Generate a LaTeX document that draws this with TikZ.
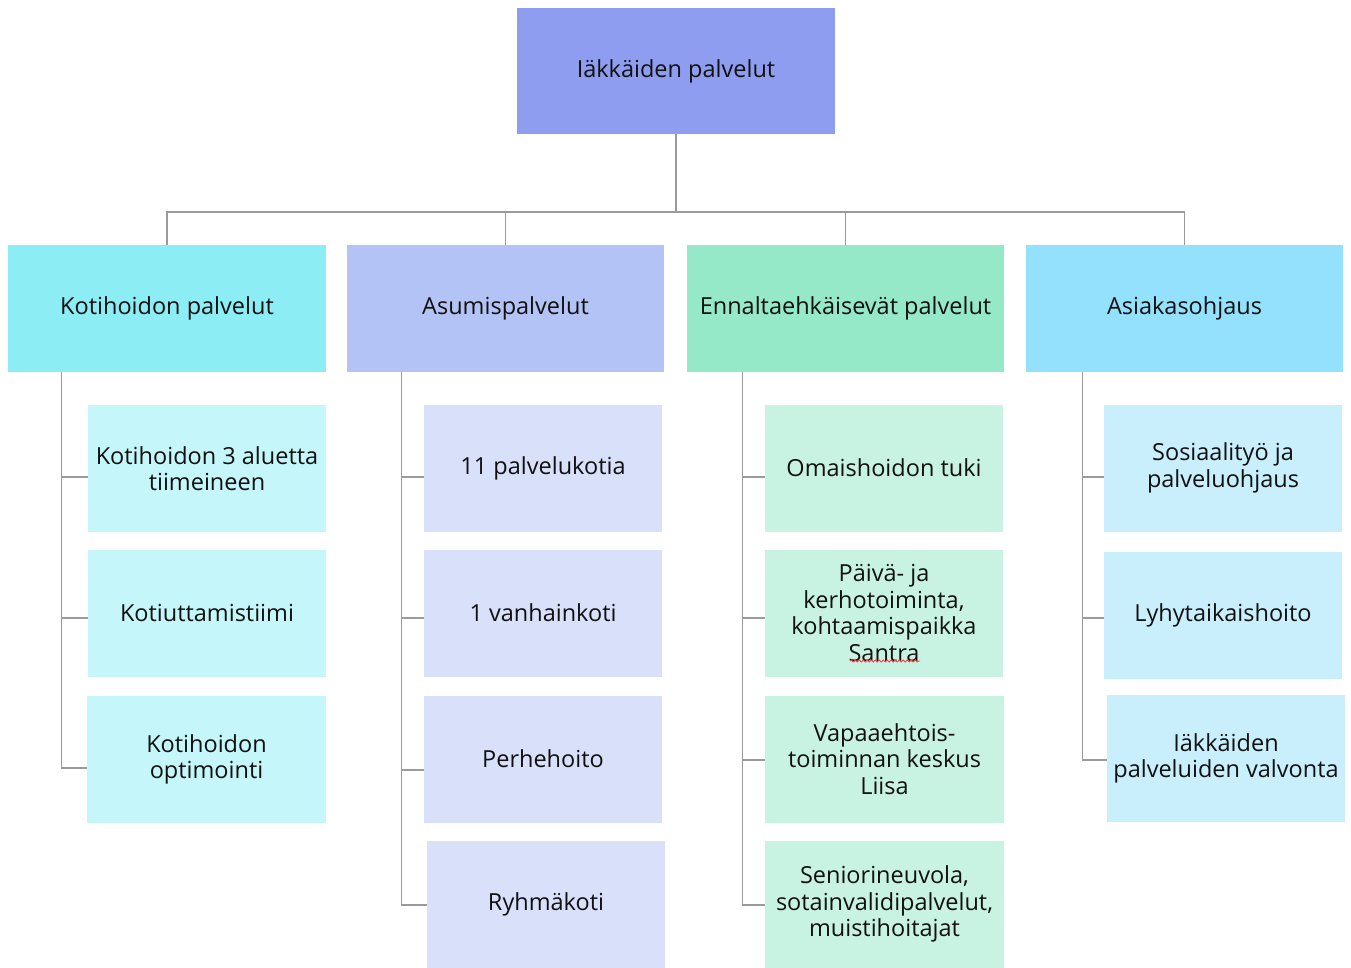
\documentclass[tikz,border=0pt]{standalone}
\usepackage{fontspec}
\setmainfont{Open Sans}
\usetikzlibrary{decorations.pathmorphing}
\definecolor{ctop}{HTML}{8F9DF0}
\definecolor{ck}{HTML}{8DEDF4}
\definecolor{ca}{HTML}{B4C3F5}
\definecolor{ce}{HTML}{95E9C9}
\definecolor{co}{HTML}{93E1FC}
\definecolor{ck2}{HTML}{C5F7FA}
\definecolor{ca2}{HTML}{D9E0FA}
\definecolor{ce2}{HTML}{C8F3E2}
\definecolor{co2}{HTML}{C9EFFD}
\definecolor{cline}{HTML}{9A9A9A}
\definecolor{ctext}{HTML}{111111}
\begin{document}
\begin{tikzpicture}[x=1pt,y=-1pt,
  box/.style={rectangle, inner sep=0pt, align=center, text=ctext,
    font=\fontsize{23.5}{26.5}\selectfont},
  big/.style={box, minimum width=318pt, minimum height=127pt},
  small/.style={box, minimum width=238pt, minimum height=127pt},
  conn/.style={draw=cline, line width=1.3pt}]
\useasboundingbox (0,0) rectangle (1351,967);
% top
\node[big, fill=ctop, minimum height=126pt] (top) at (676,71) {Iäkkäiden palvelut};
% level 1
\node[big, fill=ck] (k) at (167,308.5) {Kotihoidon palvelut};
\node[big, fill=ca, minimum width=317pt] (a) at (505.5,308.5) {Asumispalvelut};
\node[big, fill=ce, minimum width=317pt] (e) at (845.5,308.5) {Ennaltaehkäisevät palvelut};
\node[big, fill=co, minimum width=317pt] (o) at (1184.5,308.5) {Asiakasohjaus};
% column 1
\node[small, fill=ck2] (k1) at (207,468.5) {Kotihoidon 3 aluetta\\tiimeineen};
\node[small, fill=ck2] (k2) at (207,613) {Kotiuttamistiimi};
\node[small, fill=ck2, minimum width=239pt] (k3) at (206.5,759.5) {Kotihoidon\\optimointi};
% column 2
\node[small, fill=ca2] (a1) at (543,468) {11 palvelukotia};
\node[small, fill=ca2] (a2) at (543,613) {1 vanhainkoti};
\node[small, fill=ca2] (a3) at (543,759) {Perhehoito};
\node[small, fill=ca2] (a4) at (546,904) {Ryhmäkoti};
% column 3
\node[small, fill=ce2] (e1) at (884,468) {Omaishoidon tuki};
\node[small, fill=ce2] (e2) at (884,613) {Päivä- ja\\kerhotoiminta,\\kohtaamispaikka\\Santra};
\node[small, fill=ce2, minimum width=239pt] (e3) at (884.5,759) {Vapaaehtois-\\toiminnan keskus\\Liisa};
\node[small, fill=ce2, minimum width=239pt] (e4) at (884.5,904) {Seniorineuvola,\\sotainvalidipalvelut,\\muistihoitajat};
% column 4
\node[small, fill=co2] (o1) at (1223,468) {Sosiaalityö ja\\palveluohjaus};
\node[small, fill=co2] (o2) at (1223,615) {Lyhytaikaishoito};
\node[small, fill=co2] (o3) at (1226,758.5) {Iäkkäiden\\palveluiden valvonta};
% spell-check squiggle
\draw[red!75, line width=0.8pt, decorate, decoration={snake, amplitude=1pt, segment length=4pt}] (850,661) -- (920,661);
% bus
\coordinate (bus) at (676,212);
\draw[conn] (top.south) -- (bus);
\draw[conn] (bus) -| (k.north);
\draw[conn] (bus) -| (a.north);
\draw[conn] (bus) -| (e.north);
\draw[conn] (bus) -| (o.north);
% column connectors
\draw[conn] ([xshift=54pt]k.south west) |- ([yshift=-8.5pt]k1.west);
\draw[conn] ([xshift=54pt]k.south west) |- ([yshift=-5pt]k2.west);
\draw[conn] ([xshift=54pt]k.south west) |- ([yshift=-8.5pt]k3.west);
\draw[conn] ([xshift=55pt]a.south west) |- ([yshift=-9pt]a1.west);
\draw[conn] ([xshift=55pt]a.south west) |- ([yshift=-5pt]a2.west);
\draw[conn] ([xshift=55pt]a.south west) |- ([yshift=-11pt]a3.west);
\draw[conn] ([xshift=55pt]a.south west) |- ([yshift=-1pt]a4.west);
\draw[conn] ([xshift=56pt]e.south west) |- ([yshift=-9pt]e1.west);
\draw[conn] ([xshift=56pt]e.south west) |- ([yshift=-5pt]e2.west);
\draw[conn] ([xshift=56pt]e.south west) |- ([yshift=-1pt]e3.west);
\draw[conn] ([xshift=56pt]e.south west) |- ([yshift=-1pt]e4.west);
\draw[conn] ([xshift=57pt]o.south west) |- ([yshift=-9pt]o1.west);
\draw[conn] ([xshift=57pt]o.south west) |- ([yshift=-3pt]o2.west);
\draw[conn] ([xshift=57pt]o.south west) |- ([yshift=-1.5pt]o3.west);
\end{tikzpicture}
\end{document}
